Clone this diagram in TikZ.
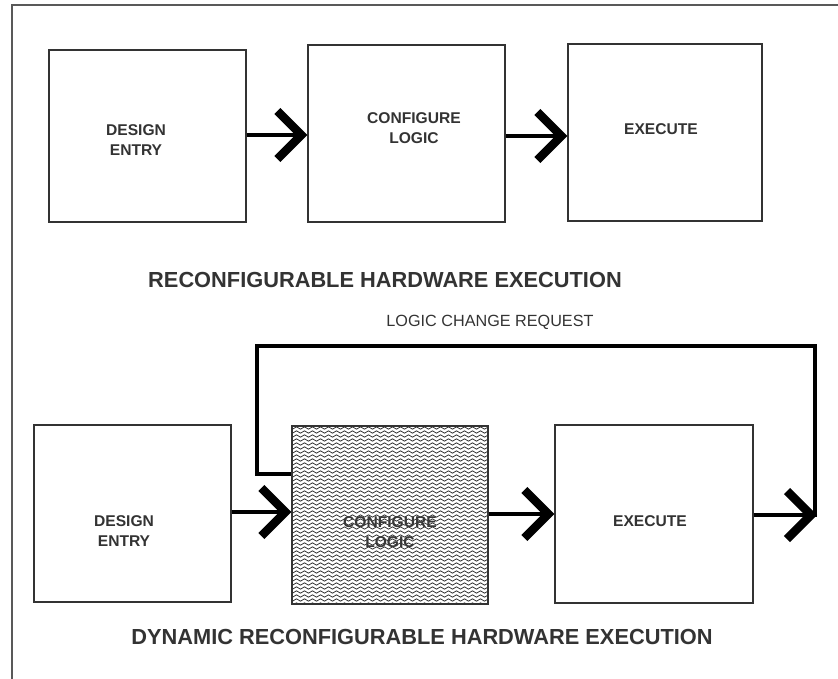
\documentclass[tikz,border=0pt]{standalone}
\usepackage{fontspec}
\setmainfont{Liberation Sans}
\usetikzlibrary{arrows.meta,decorations.pathmorphing,calc}
\definecolor{ink}{HTML}{333333}
\begin{document}
\begin{tikzpicture}[x=1pt,y=-1pt,
  box/.style={draw=ink, line width=1.3pt, inner sep=0pt},
  lbl/.style={font=\fontsize{15.6}{20.5}\selectfont\bfseries, text=ink, align=center, inner sep=0pt},
  ttl/.style={font=\fontsize{21.8}{25}\selectfont\bfseries, text=ink, inner sep=0pt},
  note/.style={font=\fontsize{16.2}{20}\selectfont, text=ink, inner sep=0pt},
  conn/.style={line width=4pt, -{Straight Barb[sharp, length=24pt, width=48pt, line width=8.5pt]}},
  loopline/.style={line width=4pt, line join=miter},
  wave/.style={draw=black!85, line width=0.75pt, decorate, decoration={snake, segment length=8pt, amplitude=1.2pt}}
]
\useasboundingbox (0,0) rectangle (838,679);
% frame
\draw[line width=1.3pt, black!65] (12,679) -- (12,5) -- (838,5);

% ---------- top row ----------
\node[box, minimum width=197pt, minimum height=172pt] (de1) at (147.5,136) {};
\node[box, minimum width=197pt, minimum height=177pt] (cl1) at (406.5,133.5) {};
\node[box, minimum width=194pt, minimum height=177pt] (ex1) at (665,132.5) {};
\node[lbl] (tde1) at (136,140) {DESIGN\\ENTRY};
\node[lbl] (tcl1) at (414,128) {CONFIGURE\\LOGIC};
\node[lbl] (tex1) at (661,129) {EXECUTE};
\draw[conn] (de1.east |- 0,135) -- (cl1.west |- 0,135);
\draw[conn] (cl1.east |- 0,136) -- (ex1.west |- 0,136);
\node[ttl] (title1) at (385,280) {RECONFIGURABLE HARDWARE EXECUTION};

% ---------- bottom row ----------
\begin{scope}
  \clip (292,426) rectangle (488,604);
  \foreach \yy in {428,432,...,604} {
    \draw[wave] (286,\yy) -- (494,\yy);
  }
\end{scope}
\node[box, minimum width=197pt, minimum height=177pt] (de2) at (132.5,513.5) {};
\node[box, minimum width=196pt, minimum height=178pt] (cl2) at (390,515) {};
\node[box, minimum width=198pt, minimum height=178pt] (ex2) at (654,514) {};
\node[lbl] (tde2) at (124,531) {DESIGN\\ENTRY};
\node[lbl, text=black!78] (tcl2) at (390,532) {CONFIGURE\\LOGIC};
\node[lbl] (tex2) at (650,521) {EXECUTE};
\coordinate (loopin) at (815,346);
\coordinate (loopend) at (817,515);
\draw[conn] (de2.east |- 0,512) -- (cl2.west |- 0,512);
\draw[conn] (cl2.east |- 0,514) -- (ex2.west |- 0,514);
\draw[conn] (ex2.east |- loopend) -- (loopend);
\draw[loopline] (loopend) ++(-2,2) -- (loopin) -- (257,346) -- (257,474) -- (cl2.west |- 0,474);
\node[note] (req) at (490,322) {LOGIC CHANGE REQUEST};
\node[ttl] (title2) at (422,637) {DYNAMIC RECONFIGURABLE HARDWARE EXECUTION};
\end{tikzpicture}
\end{document}
